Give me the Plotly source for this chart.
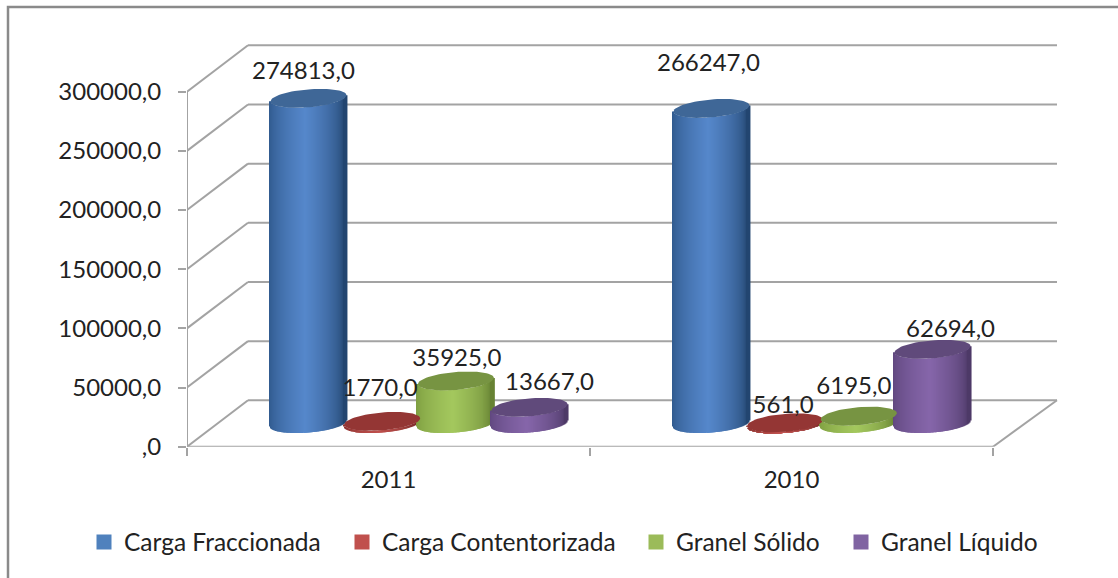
import numpy as np
import plotly.graph_objects as go

# ---- data ----
categories = ["2011", "2010"]
series_names = ["Carga Fraccionada", "Carga Contentorizada", "Granel Sólido", "Granel Líquido"]
carga_fraccionada = [274813, 266247]
carga_contentorizada = [1770, 561]
granel_solido = [35925, 6195]
granel_liquido = [13667, 62694]
y_tick_values = [0, 50000, 100000, 150000, 200000, 250000, 300000]
y_tick_labels = [",0", "50000,0", "100000,0", "150000,0", "200000,0", "250000,0", "300000,0"]

# ---- styles ----
all_series = [carga_fraccionada, carga_contentorizada, granel_solido, granel_liquido]
legend_colors = ["#4F81BD", "#C0504D", "#9BBB59", "#8064A2"]
cap_colors = ["#3F6797", "#943634", "#779442", "#604A7B"]
light_colors = [(86, 136, 204), (192, 80, 77), (164, 200, 94), (134, 102, 170)]
dark_colors = [(38, 76, 122), (120, 40, 38), (112, 142, 56), (84, 62, 112)]
# per-label nudges relative to top of the cylinder, in px
label_dx = [[-5, -2, 1, 20], [-3, -2, -5, 18]]
label_dy = [[25, 31, 21, 23], [43, 16, 28, 18]]
legend_x_px = [84, 342, 636, 841]

W, H = 1118, 578
PX_L, PX_R, PX_T, PX_B = 187, 993, 91.7, 446.7
Y_MAX = 360000                      # axis reaches above the last tick so caps are not cut
X_MAX = 2.2                         # axis reaches past the last tick so the back wall is not cut
px_x = (PX_R - PX_L) / 2            # px per x unit
px_y = (PX_B - PX_T) / 300000       # px per value
DX = 64 / px_x                      # depth of the floor at the right end of the wall
DY = 46.4 / px_y
STEP = 73.7 / px_x
A = 36 / px_x                       # cylinder cross-section
B = 12.2 / px_x
C = 9.5 / px_y
HALF = np.hypot(A, B)
N = 78
GRID = "#A3A3A3"
DX_LEFT = 61 / px_x

shapes = [dict(type="rect", xref="paper", yref="paper", x0=8 / W, x1=1.05, y0=-0.05, y1=1 - 7 / H,
               line=dict(color="#8A8A8A", width=2.5), layer="below")]
for v in y_tick_values:
    shapes.append(dict(type="line", xref="x", yref="y", x0=0, y0=v, x1=DX_LEFT, y1=v + DY,
                       line=dict(color=GRID, width=2), layer="below"))
    shapes.append(dict(type="line", xref="x", yref="y", x0=DX_LEFT, y0=v + DY, x1=2 + DX, y1=v + DY,
                       line=dict(color=GRID, width=2), layer="below"))
shapes.append(dict(type="line", xref="x", yref="y", x0=2, y0=0, x1=2 + DX, y1=DY,
                   line=dict(color=GRID, width=2), layer="below"))
shapes.append(dict(type="line", xref="x", yref="y", x0=0, y0=0, x1=0, y1=y_tick_values[-1],
                   line=dict(color=GRID, width=2), layer="below"))
shapes.append(dict(type="line", xref="x", yref="y", x0=0, y0=0, x1=2, y1=0,
                   line=dict(color=GRID, width=2), layer="below"))

fig = go.Figure()
caps = []
label_x, label_y, label_t = [], [], []
for i, cat in enumerate(categories):
    for j, vals in enumerate(all_series):
        v = vals[i]
        cx = i + 0.5 + DX_LEFT / 2 + (j - 1.5) * STEP
        floor = DY / 2
        xs = np.linspace(-HALF, HALF, N)
        disc = np.clip(xs ** 2 * B ** 2 - HALF ** 2 * (xs ** 2 - A ** 2), 0, None)
        s_low = (xs * B - np.sqrt(disc)) / HALF ** 2
        u = (xs + 0.06 * HALF) / HALF
        t = np.clip(1 - np.abs(u), 0, 1) ** 0.55
        cols = []
        for k in range(N):
            edge = np.array(dark_colors[j]) * (0.92 if u[k] > 0 else 1.05)
            c = edge + (np.array(light_colors[j]) - edge) * t[k]
            cols.append("rgb(%d,%d,%d)" % tuple(np.clip(c, 0, 255)))
        fig.add_trace(go.Bar(
            x=cx + xs, y=[v] * N, base=floor + C * s_low,
            width=2 * HALF / (N - 1) * 2, marker=dict(color=cols, line=dict(width=0)),
            cliponaxis=False, showlegend=False, hoverinfo="skip"))
        t_par = np.linspace(0, 2 * np.pi, 73)
        caps.append(go.Scatter(
            x=cx + A * np.cos(t_par) + B * np.sin(t_par),
            y=floor + v + C * np.sin(t_par),
            mode="lines", fill="toself", fillcolor=cap_colors[j], line=dict(width=0, color=cap_colors[j]),
            cliponaxis=False, showlegend=False, hoverinfo="skip"))
        label_x.append(cx + label_dx[i][j] / px_x)
        label_y.append(floor + v + label_dy[i][j] / px_y)
        label_t.append(f"{v:.1f}".replace(".", ","))

for c in caps:
    fig.add_trace(c)
fig.add_trace(go.Scatter(x=label_x, y=label_y, text=label_t, mode="text", textposition="middle center",
                         cliponaxis=False, showlegend=False, hoverinfo="skip",
                         textfont=dict(family="Lato", size=24, color="#222222")))
legends = {}
for n, (name, col, lx) in enumerate(zip(series_names, legend_colors, legend_x_px)):
    key = "legend" if n == 0 else f"legend{n + 1}"
    fig.add_trace(go.Scatter(x=[None], y=[None], name=name, mode="markers", legend=key,
                             marker=dict(color=col, symbol="square", size=15)))
    legends[key] = dict(orientation="h", x=lx / W, xanchor="left", y=1 - 542 / H, yanchor="middle",
                        itemwidth=30, font=dict(family="Lato", size=24.5, color="#222222"),
                        bgcolor="rgba(0,0,0,0)")

fig.update_layout(
    width=W, height=H, autosize=False, barmode="overlay",
    margin=dict(l=0, r=0, t=0, b=0, autoexpand=False), paper_bgcolor="white", plot_bgcolor="white",
    font=dict(family="Lato", size=24, color="#222222"),
    shapes=shapes, showlegend=True,
    xaxis=dict(domain=[PX_L / W, (PX_L + X_MAX * px_x) / W], range=[0, X_MAX], tickmode="array",
               tickvals=[0.5, 1.5],
               ticktext=categories, ticks="outside", ticklen=11, tickcolor="rgba(0,0,0,0)",
               automargin=False,
               showgrid=False, zeroline=False, showline=False,
               minor=dict(tickmode="array", tickvals=[0, 1, 2], ticks="outside", ticklen=8,
                          tickcolor=GRID, tickwidth=2, showgrid=False)),
    yaxis=dict(domain=[1 - PX_B / H, 1 - (PX_B - Y_MAX * px_y) / H], range=[0, Y_MAX], tickmode="array",
               tickvals=y_tick_values, ticktext=y_tick_labels, ticks="outside", ticklen=8,
               tickcolor=GRID, tickwidth=2, ticklabelstandoff=12, automargin=False,
               showgrid=False, zeroline=False, showline=False),
    **legends,
)
fig.write_html("out.html", config=dict(displayModeBar=False),
               post_script="document.body.style.margin='0';document.documentElement.style.overflow='hidden';")
